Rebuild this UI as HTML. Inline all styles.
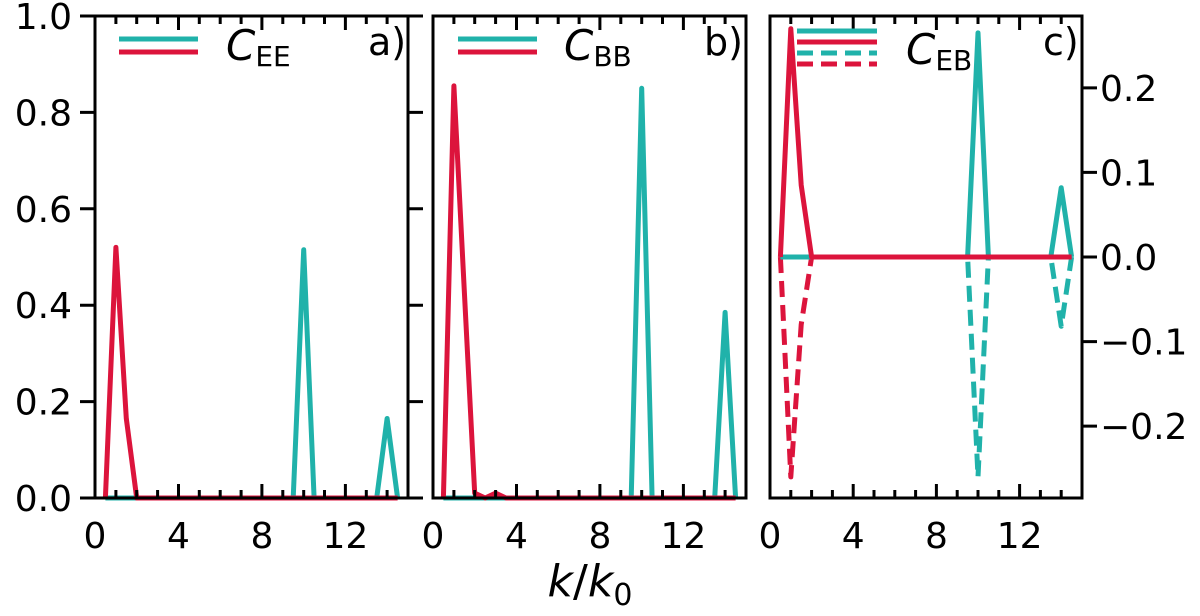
<!DOCTYPE html>
<html><head><meta charset="utf-8"><style>
body{margin:0;background:#fff}
svg{display:block;font-family:"DejaVu Sans","Liberation Sans",sans-serif}
</style></head><body>
<svg id="chart" width="1200" height="616" viewBox="0 0 1200 616">
<g id="ticks" fill="none" stroke="#000" stroke-width="3">
<path d="M95 498v-14M95 16v14M115.9 498v-8M115.9 16v8M136.7 498v-8M136.7 16v8M157.6 498v-8M157.6 16v8M178.5 498v-14M178.5 16v14M199.3 498v-8M199.3 16v8M220.2 498v-8M220.2 16v8M241.1 498v-8M241.1 16v8M261.9 498v-14M261.9 16v14M282.8 498v-8M282.8 16v8M303.7 498v-8M303.7 16v8M324.5 498v-8M324.5 16v8M345.4 498v-14M345.4 16v14M366.3 498v-8M366.3 16v8M387.1 498v-8M387.1 16v8M95 498h-15M95 401.6h-15M95 305.2h-15M95 208.8h-15M95 112.4h-15M95 16h-15M408 498h15M408 401.6h15M408 305.2h15M408 208.8h15M408 112.4h15M408 16h15"/>
<path d="M433 498v-14M433 16v14M453.9 498v-8M453.9 16v8M474.7 498v-8M474.7 16v8M495.6 498v-8M495.6 16v8M516.5 498v-14M516.5 16v14M537.3 498v-8M537.3 16v8M558.2 498v-8M558.2 16v8M579.1 498v-8M579.1 16v8M599.9 498v-14M599.9 16v14M620.8 498v-8M620.8 16v8M641.7 498v-8M641.7 16v8M662.5 498v-8M662.5 16v8M683.4 498v-14M683.4 16v14M704.3 498v-8M704.3 16v8M725.1 498v-8M725.1 16v8"/>
<path d="M770 498v-14M770 16v14M790.8 498v-8M790.8 16v8M811.6 498v-8M811.6 16v8M832.4 498v-8M832.4 16v8M853.2 498v-14M853.2 16v14M874 498v-8M874 16v8M894.8 498v-8M894.8 16v8M915.6 498v-8M915.6 16v8M936.4 498v-14M936.4 16v14M957.2 498v-8M957.2 16v8M978 498v-8M978 16v8M998.8 498v-8M998.8 16v8M1019.6 498v-14M1019.6 16v14M1040.4 498v-8M1040.4 16v8M1061.2 498v-8M1061.2 16v8M1082 426.1h15M1082 341.6h15M1082 257h15M1082 172.4h15M1082 87.9h15"/>
</g>
</svg>
<script>
const kValues=[0.5,1,1.5,2,2.5,3,3.5,4,4.5,5,5.5,6,6.5,7,7.5,8,8.5,9,9.5,10,10.5,11,11.5,12,12.5,13,13.5,14,14.5];
const eeTeal=[0,0,0,0,0,0,0,0,0,0,0,0,0,0,0,0,0,0,0,0.515,0,0,0,0,0,0,0,0.165,0];
const eeRed=[0,0.52,0.165,0,0,0,0,0,0,0,0,0,0,0,0,0,0,0,0,0,0,0,0,0,0,0,0,0,0];
const bbTeal=[0,0,0,0,0,0,0,0,0,0,0,0,0,0,0,0,0,0,0,0.85,0,0,0,0,0,0,0,0.385,0];
const bbRed=[0,0.855,0.43,0.01,0,0.01,0,0,0,0,0,0,0,0,0,0,0,0,0,0,0,0,0,0,0,0,0,0,0];
const ebTealPos=[0,0,0,0,0,0,0,0,0,0,0,0,0,0,0,0,0,0,0,0.265,0,0,0,0,0,0,0,0.082,0];
const ebRedPos=[0,0.27,0.085,0,0,0,0,0,0,0,0,0,0,0,0,0,0,0,0,0,0,0,0,0,0,0,0,0,0];
const ebTealNeg=[0,0,0,0,0,0,0,0,0,0,0,0,0,0,0,0,0,0,0,-0.26,0,0,0,0,0,0,0,-0.082,0];
const ebRedNeg=[0,-0.26,-0.08,0,0,0,0,0,0,0,0,0,0,0,0,0,0,0,0,0,0,0,0,0,0,0,0,0,0];
const xTicks=[0,4,8,12];
const yTicksLeft=[0,0.2,0.4,0.6,0.8,1.0];
const yTicksRight=[-0.2,-0.1,0,0.1,0.2];

const svg=document.getElementById('chart');
const NS='http://www.w3.org/2000/svg';
const TEAL='#20b2aa',RED='#dc143c';
const TOP=16,BOT=498;
function mk(tag,attrs,parent){const e=document.createElementNS(NS,tag);for(const k in attrs)e.setAttribute(k,attrs[k]);(parent||svg).appendChild(e);return e;}
function panel(x0,x1,ymin,ymax,name){
  const g=mk('g',{});
  
  
  const xs=k=>x0+(k/15)*(x1-x0);
  const ys=v=>BOT-(v-ymin)/(ymax-ymin)*(BOT-TOP);
  return {g,xs,ys,x0,x1};
}
function line(p,vals,color,dash,name){
  const pts=kValues.map((k,i)=>p.xs(k).toFixed(1)+','+p.ys(vals[i]).toFixed(1)).join(' ');
  const e=mk('polyline',{points:pts,fill:'none',stroke:color,'stroke-width':5,'stroke-linejoin':'round'},p.g);
  if(dash)e.setAttribute('stroke-dasharray','16,8');
  
  
}
function frame(p){
  const g=p.g;
  const fr=mk('rect',{x:p.x0,y:TOP,width:p.x1-p.x0,height:BOT-TOP,fill:'none',stroke:'#000','stroke-width':3},g);
  
  
  xTicks.forEach(t=>{
    const tx=mk('text',{x:p.xs(t),y:BOT+50,'font-size':36,'text-anchor':'middle'},g);
    tx.textContent=t;
    
    
  });
}
const pa=panel(95,408,0,1,'panel-a');
line(pa,eeTeal,TEAL,false,'ee-teal-line');
line(pa,eeRed,RED,false,'ee-red-line');
frame(pa);
yTicksLeft.forEach(t=>{
  const tx=mk('text',{x:72,y:pa.ys(t)+13,'font-size':36,'text-anchor':'end'});
  tx.textContent=t.toFixed(1);
  
  
});
const pb=panel(433,746,0,1,'panel-b');
line(pb,bbTeal,TEAL,false,'bb-teal-line');
line(pb,bbRed,RED,false,'bb-red-line');
frame(pb);
const pc=panel(770,1082,-0.285,0.285,'panel-c');
line(pc,ebTealNeg,TEAL,true,'eb-teal-negative-line');
line(pc,ebRedNeg,RED,true,'eb-red-negative-line');
line(pc,ebTealPos,TEAL,false,'eb-teal-positive-line');
line(pc,ebRedPos,RED,false,'eb-red-positive-line');
frame(pc);
yTicksRight.forEach(t=>{
  const tx=mk('text',{x:1100,y:pc.ys(t)+13,'font-size':36,'text-anchor':'start'});
  tx.textContent=(t<0?'\u2212':'')+Math.abs(t).toFixed(1);
  
  
});
svg.appendChild(document.getElementById('ticks'));
</script>
<svg width="1200" height="616" style="position:absolute;left:0;top:0">
  <g font-family="DejaVu Sans, Liberation Sans, sans-serif">
    <line x1="119" y1="39" x2="198" y2="39" stroke="#20b2aa" stroke-width="5"/>
    <line x1="119" y1="52" x2="198" y2="52" stroke="#dc143c" stroke-width="5"/>
    <text x="226" y="60" font-size="42"><tspan font-style="italic">C</tspan><tspan font-size="28" dy="6">EE</tspan></text>
    <text x="368" y="55" font-size="38">a)</text>
    <line x1="458" y1="39" x2="537" y2="39" stroke="#20b2aa" stroke-width="5"/>
    <line x1="458" y1="52" x2="537" y2="52" stroke="#dc143c" stroke-width="5"/>
    <text x="564" y="60" font-size="42"><tspan font-style="italic">C</tspan><tspan font-size="28" dy="6">BB</tspan></text>
    <text x="704" y="55" font-size="38">b)</text>
    <line x1="797" y1="31" x2="877" y2="31" stroke="#20b2aa" stroke-width="5"/>
    <line x1="797" y1="42" x2="877" y2="42" stroke="#dc143c" stroke-width="5"/>
    <line x1="797" y1="53" x2="877" y2="53" stroke="#20b2aa" stroke-width="5" stroke-dasharray="16,8"/>
    <line x1="797" y1="64" x2="877" y2="64" stroke="#dc143c" stroke-width="5" stroke-dasharray="16,8"/>
    <text x="906" y="64" font-size="42"><tspan font-style="italic">C</tspan><tspan font-size="28" dy="6">EB</tspan></text>
    <text x="1043" y="55" font-size="38">c)</text>
    <text x="590" y="596" font-size="44" text-anchor="middle"><tspan font-style="italic">k</tspan>/<tspan font-style="italic">k</tspan><tspan font-size="30" dy="9">0</tspan></text>
  </g>
</svg>
</body></html>
